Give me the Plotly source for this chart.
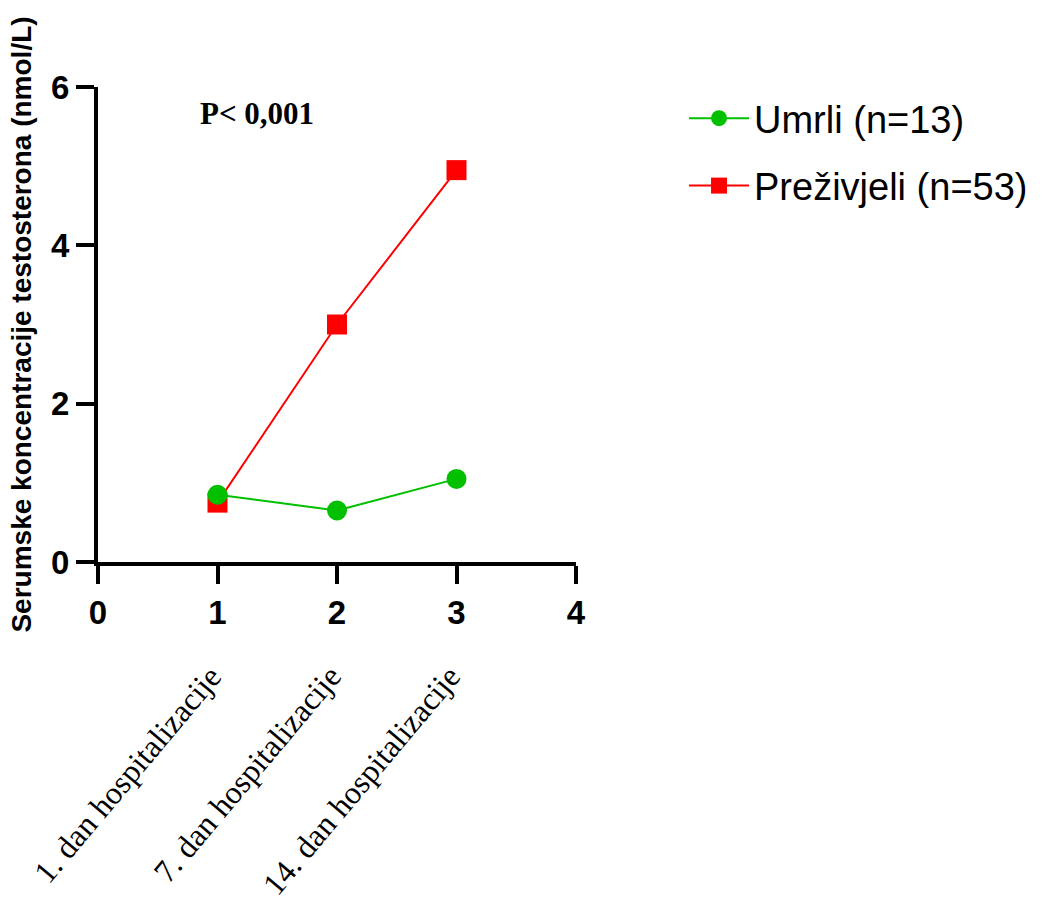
import plotly.graph_objects as go

x_vals = [1, 2, 3]
umrli = [0.85, 0.65, 1.05]
prezivjeli = [0.75, 3.0, 4.95]
cat_labels = ["1. dan hospitalizacije", "7. dan hospitalizacije", "14. dan hospitalizacije"]
name_umrli = "Umrli (n=13)"
name_prez = "Preživjeli (n=53)"
y_title = "Serumske koncentracije testosterona (nmol/L)"
p_text = "<b>P< 0,001</b>"

fig = go.Figure()
fig.add_trace(go.Scatter(
    x=x_vals, y=prezivjeli, mode="lines+markers", name=name_prez,
    line=dict(color="#ff0000", width=2),
    marker=dict(symbol="square", size=20, color="#ff0000"),
    legendgroup="b", legendrank=2,
))
fig.add_trace(go.Scatter(
    x=x_vals, y=umrli, mode="lines+markers", name=name_umrli,
    line=dict(color="#00c000", width=2),
    marker=dict(symbol="circle", size=20, color="#00c000"),
    legendgroup="a", legendrank=1,
))

annotations = []
for xv, lab in zip(x_vals, cat_labels):
    annotations.append(dict(
        x=xv, xref="x", y=-0.198, yref="paper",
        text=lab, showarrow=False, textangle=-50,
        xanchor="right", yanchor="top", xshift=14,
        font=dict(family="Liberation Serif", size=32, color="black"),
    ))
annotations.append(dict(
    x=1.33, xref="x", y=5.67, yref="y", text=p_text, showarrow=False,
    xanchor="center", yanchor="middle",
    font=dict(family="Liberation Serif", size=31, color="black"),
))

fig.update_layout(
    width=1048, height=904,
    margin=dict(l=98, r=472, t=87, b=342),
    plot_bgcolor="white", paper_bgcolor="white",
    showlegend=True,
    legend=dict(
        x=1.226, y=1.0, xanchor="left", yanchor="top",
        font=dict(family="Liberation Sans", size=38, color="black"),
        tracegroupgap=15, traceorder="grouped", itemwidth=60,
    ),
    annotations=annotations,
    xaxis=dict(
        range=[0, 4], tickvals=[0, 1, 2, 3, 4], showgrid=False, zeroline=False,
        showline=True, linecolor="black", linewidth=4,
        ticks="outside", ticklen=18, tickwidth=4, tickcolor="black",
        tickfont=dict(family="Liberation Sans", size=33, color="black", weight="bold"),
        ticklabelstandoff=0,
    ),
    yaxis=dict(
        range=[0, 6], tickvals=[0, 2, 4, 6], showgrid=False, zeroline=False,
        showline=True, linecolor="black", linewidth=4,
        ticks="outside", ticklen=18, tickwidth=4, tickcolor="black",
        tickfont=dict(family="Liberation Sans", size=33, color="black", weight="bold"),
        ticklabelstandoff=0,
        title=dict(text=y_title, standoff=12,
                   font=dict(family="Liberation Sans", size=28, color="black", weight="bold")),
    ),
)

fig.write_html("out.html")
